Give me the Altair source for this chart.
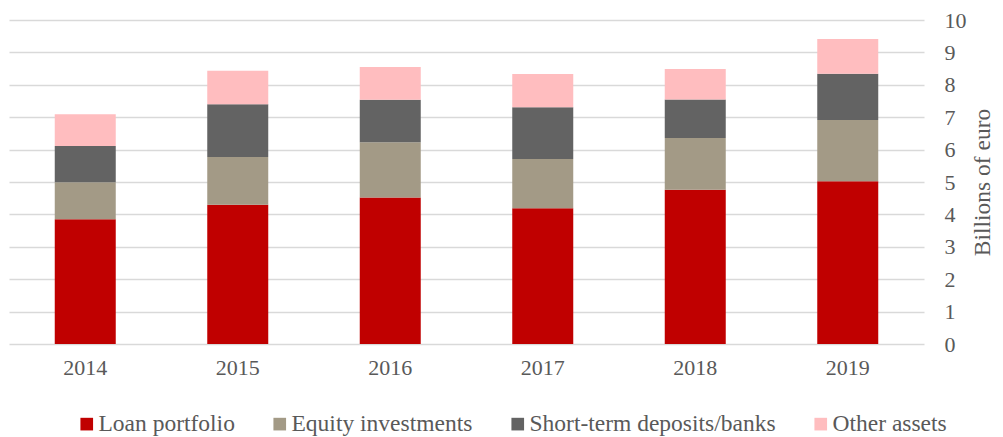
import altair as alt
import pandas as pd

years = ["2014", "2015", "2016", "2017", "2018", "2019"]
series = ["Loan portfolio", "Equity investments", "Short-term deposits/banks", "Other assets"]
loan = [3.85, 4.30, 4.52, 4.19, 4.76, 5.02]
equity = [1.14, 1.47, 1.71, 1.52, 1.60, 1.89]
deposits = [1.12, 1.63, 1.31, 1.60, 1.19, 1.43]
other = [0.98, 1.03, 1.01, 1.02, 0.94, 1.07]
colors = ["#C00000", "#A39A86", "#636363", "#FFBDBF"]
y_ticks = list(range(0, 11))

rows = []
for si, (name, vals) in enumerate(zip(series, [loan, equity, deposits, other])):
    for y, v in zip(years, vals):
        rows.append({"year": y, "series": name, "value": v, "idx": si})
df = pd.DataFrame(rows)

FONT = "Liberation Serif"
GRAY = "#595959"

chart = alt.Chart(df).mark_bar().encode(
    x=alt.X("year:N", sort=years,
            scale=alt.Scale(paddingInner=0.6, paddingOuter=0.3),
            axis=alt.Axis(title=None, labelAngle=0, domain=False, ticks=False,
                          labelPadding=13, labelFontSize=22, labelColor=GRAY,
                          labelFont=FONT)),
    y=alt.Y("value:Q", stack="zero",
            scale=alt.Scale(domain=[0, 10], nice=False),
            axis=alt.Axis(orient="right", values=y_ticks, title="Billions of euro",
                          titleAngle=270, titleBaseline="alphabetic",
                          titleFontSize=23.5, titleFont=FONT,
                          titleFontWeight="normal", titleColor=GRAY, titlePadding=23,
                          labelFontSize=22, labelColor=GRAY, labelFont=FONT,
                          labelPadding=20, domain=False, ticks=False,
                          gridColor="#D9D9D9", gridWidth=1.5)),
    color=alt.Color("series:N", sort=series,
                    scale=alt.Scale(domain=series, range=colors),
                    legend=alt.Legend(title=None, orient="none", direction="horizontal",
                                      legendX=66, legendY=392,
                                      symbolType="square", symbolSize=160,
                                      symbolStrokeWidth=0,
                                      labelFontSize=23.5, labelFont=FONT, labelColor=GRAY,
                                      columnPadding=33, labelOffset=0, labelLimit=400)),
    order=alt.Order("idx:Q", sort="ascending"),
).properties(
    width=915, height=324,
    padding={"left": 1, "top": 1, "right": 0, "bottom": 0},
).configure_view(stroke=None)

chart.save("out.html", embed_options={"renderer": "svg", "actions": False})
